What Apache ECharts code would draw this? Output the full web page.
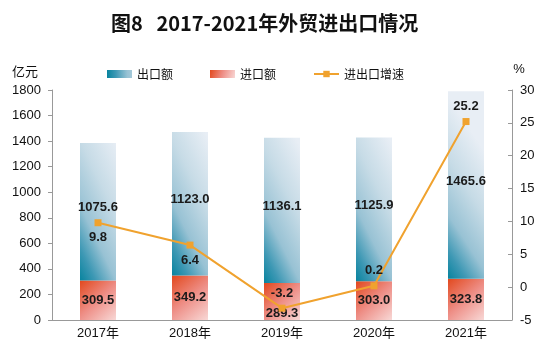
<!DOCTYPE html>
<html>
<head>
<meta charset="utf-8">
<script src="https://cdn.jsdelivr.net/npm/echarts@6/dist/echarts.min.js"></script>
<style>
  html, body { margin: 0; padding: 0; background: #fff; }
  #chart { width: 550px; height: 350px; }
</style>
</head>
<body>
<div id="chart"></div>
<script>
// 数据
var years = ['2017年', '2018年', '2019年', '2020年', '2021年'];
var exportVals = [1075.6, 1123.0, 1136.1, 1125.9, 1465.6];
var importVals = [309.5, 349.2, 289.3, 303.0, 323.8];
var growthVals = [9.8, 6.4, -3.2, 0.2, 25.2];
var growthLabelPos = ['bottom', 'bottom', 'top', 'top', 'top'];

var myChart = echarts.init(document.getElementById('chart'));

// 斜向渐变：左下深，右上浅
var expColor = new echarts.graphic.LinearGradient(0, 1, 2.33, 0.71, [
    { offset: 0, color: '#07839e' },
    { offset: 0.15, color: '#3d98b4' },
    { offset: 0.35, color: '#98c2d4' },
    { offset: 0.65, color: '#c6dbe6' },
    { offset: 1, color: '#e8eef5' }
]);
var impColor = new echarts.graphic.LinearGradient(0, 0, 1, 1, [
    { offset: 0, color: '#e2481d' },
    { offset: 0.5, color: '#ee8e86' },
    { offset: 1, color: '#f8d8d6' }
]);

var labelStyle = {
    show: true,
    color: '#1a1a1a',
    fontSize: 13,
    fontWeight: 'bold',
    fontFamily: 'Liberation Sans, Arial, sans-serif',
    formatter: function (p) { return Number(p.value).toFixed(1); }
};

var option = {
    textStyle: { fontFamily: 'Liberation Sans, Noto Sans CJK SC, sans-serif' },
    title: {
        text: '图8   2017-2021年外贸进出口情况',
        left: 106,
        top: 8,
        textStyle: {
            fontSize: 20,
            fontWeight: 'bold',
            color: '#111',
            fontFamily: 'Noto Sans CJK SC, sans-serif'
        }
    },
    legend: {
        top: 63,
        left: 102,
        itemGap: 37,
        itemWidth: 25,
        itemHeight: 8,
        textStyle: { fontSize: 12, color: '#111', fontFamily: 'Noto Sans CJK SC, sans-serif' },
        data: [
            { name: '出口额', icon: 'rect' },
            { name: '进口额', icon: 'rect' },
            { name: '进出口增速' }
        ]
    },
    grid: { left: 52, right: 38, top: 90, bottom: 30 },
    xAxis: [{
        type: 'category',
        data: years,
        axisLine: { lineStyle: { color: '#999' } },
        axisTick: { inside: true, length: 5, lineStyle: { color: '#999' } },
        axisLabel: { color: '#111', fontSize: 13, margin: 7 }
    }],
    yAxis: [{
        type: 'value',
        name: '亿元',
        nameLocation: 'end',
        nameGap: 12,
        nameTextStyle: { color: '#111', fontSize: 13, align: 'right', padding: [0, 14, 0, 0], fontFamily: 'Noto Sans CJK SC, sans-serif' },
        min: 0,
        max: 1800,
        interval: 200,
        axisLine: { show: true, lineStyle: { color: '#999' } },
        axisTick: { show: true, length: 4, lineStyle: { color: '#999' } },
        axisLabel: { color: '#111', fontSize: 13, margin: 11, formatter: function (v) { return String(v); } },
        splitLine: { show: false }
    }, {
        type: 'value',
        name: '%',
        nameLocation: 'end',
        nameGap: 14,
        nameTextStyle: { color: '#111', fontSize: 13, padding: [0, 0, 0, 14] },
        min: -5,
        max: 30,
        interval: 5,
        axisLine: { show: true, lineStyle: { color: '#999' } },
        axisTick: { show: true, inside: true, length: 4, lineStyle: { color: '#999' } },
        axisLabel: { color: '#111', fontSize: 13, margin: 8 },
        splitLine: { show: false }
    }],
    series: [{
        name: '进口额',
        type: 'bar',
        stack: 'trade',
        barWidth: 36,
        itemStyle: { color: impColor },
        label: Object.assign({}, labelStyle, { position: 'inside' }),
        data: importVals.map(function (v, i) {
            // 2019年标签下移，避开增速标签
            return i === 2 ? { value: v, label: { offset: [0, 12] } } : v;
        })
    }, {
        name: '出口额',
        type: 'bar',
        stack: 'trade',
        barWidth: 36,
        itemStyle: { color: expColor },
        label: Object.assign({}, labelStyle, { position: 'inside', offset: [0, -4] }),
        data: exportVals
    }, {
        name: '进出口增速',
        type: 'line',
        yAxisIndex: 1,
        symbol: 'rect',
        symbolSize: 7,
        z: 5,
        lineStyle: { color: '#f0a22e', width: 2 },
        itemStyle: { color: '#f0a22e' },
        data: growthVals.map(function (v, i) {
            return {
                value: v,
                label: Object.assign({}, labelStyle, { position: growthLabelPos[i], distance: 5 })
            };
        })
    }]
};

myChart.setOption(option);
</script>
</body>
</html>
